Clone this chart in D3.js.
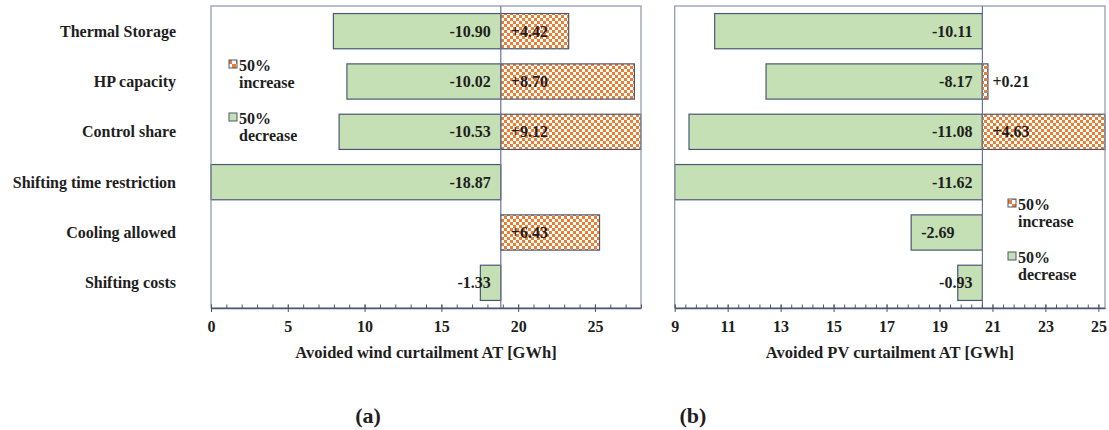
<!DOCTYPE html>
<html>
<head>
<meta charset="utf-8">
<script src="https://cdn.jsdelivr.net/npm/d3@7/dist/d3.min.js"></script>
<style>
  html, body { margin: 0; padding: 0; background: #fff; }
  svg { display: block; }
  text { font-family: "Liberation Serif", "Times New Roman", serif; font-weight: bold; fill: #1e1e1e; }
</style>
</head>
<body>
<svg id="chart" width="1109" height="430"></svg>
<script>
// Sensitivity parameters (top to bottom)
const categories = [
  "Thermal Storage",
  "HP capacity",
  "Control share",
  "Shifting time restriction",
  "Cooling allowed",
  "Shifting costs"
];

// (a) avoided wind curtailment, GWh
const windBase = 18.87;
const windDecrease = [-10.90, -10.02, -10.53, -18.87, null, -1.33];
const windIncrease = [4.42, 8.70, 9.12, null, 6.43, null];
const windTicks = [0, 5, 10, 15, 20, 25];

// (b) avoided PV curtailment, GWh
const pvBase = 20.62;
const pvDecrease = [-10.11, -8.17, -11.08, -11.62, -2.69, -0.93];
const pvIncrease = [null, 0.21, 4.63, null, null, null];
const pvTicks = [9, 11, 13, 15, 17, 19, 21, 23, 25];

const legendLabels = [["50%", "increase"], ["50%", "decrease"]];

const svg = d3.select("#chart");
const GREEN = "#c5e0b4";
const ORANGE = "#ed7d31";
const BAR_STROKE = "#4a5872";
const FRAME = "#8a94aa";

// plain hyphen for negatives, explicit plus for positives
const fmt2 = v => (v < 0 ? "-" : "+") + Math.abs(v).toFixed(2);

// checkerboard fill for the "increase" bars
const defs = svg.append("defs");
const pat = defs.append("pattern")
  .attr("id", "checker").attr("patternUnits", "userSpaceOnUse")
  .attr("width", 6).attr("height", 6);
pat.append("rect").attr("width", 6).attr("height", 6).attr("fill", "#fff");
pat.append("rect").attr("x", 0).attr("y", 0).attr("width", 3).attr("height", 3).attr("fill", ORANGE);
pat.append("rect").attr("x", 3).attr("y", 3).attr("width", 3).attr("height", 3).attr("fill", ORANGE);
const pat2 = defs.append("pattern")
  .attr("id", "checkerLegend").attr("patternUnits", "userSpaceOnUse")
  .attr("width", 8).attr("height", 8);
pat2.append("rect").attr("width", 8).attr("height", 8).attr("fill", "#fff");
pat2.append("rect").attr("width", 4).attr("height", 4).attr("fill", ORANGE);
pat2.append("rect").attr("x", 4).attr("y", 4).attr("width", 4).attr("height", 4).attr("fill", ORANGE);

const plotTop = 6, plotBottom = 308;
const y = d3.scaleBand().domain(categories).range([plotTop, plotBottom]).paddingInner(0.3).paddingOuter(0.15);

function panel(opts) {
  const { x0, x1, domain, base, dec, inc, ticks, minorStep, title, legendX, legendY, legendGap, tag, tagX, insideLeft } = opts;
  const x = d3.scaleLinear().domain(domain).range([x0, x1]);
  const g = svg.append("g");

  const rows = categories.map((c, i) => ({ c, i, dec: dec[i], inc: inc[i] }));

  // decrease bars (green) extend left of the base value
  g.selectAll("rect.dec").data(rows.filter(d => d.dec != null)).join("rect")
    .attr("x", d => x(base + d.dec)).attr("y", d => y(d.c))
    .attr("width", d => x(base) - x(base + d.dec)).attr("height", y.bandwidth())
    .attr("fill", GREEN).attr("stroke", BAR_STROKE).attr("stroke-width", 1.2);

  // increase bars (orange checkerboard) extend right of the base value
  g.selectAll("rect.inc").data(rows.filter(d => d.inc != null)).join("rect")
    .attr("x", x(base)).attr("y", d => y(d.c))
    .attr("width", d => Math.min(x(base + d.inc), x1) - x(base)).attr("height", y.bandwidth())
    .attr("fill", "url(#checker)").attr("stroke", BAR_STROKE).attr("stroke-width", 1.2);

  // plot frame
  g.append("rect").attr("x", x0).attr("y", plotTop).attr("width", x1 - x0).attr("height", plotBottom - plotTop)
    .attr("fill", "none").attr("stroke", FRAME).attr("stroke-width", 1.2);
  // vertical line at the base value
  g.append("line").attr("x1", x(base)).attr("x2", x(base)).attr("y1", plotTop).attr("y2", plotBottom)
    .attr("stroke", "#6b7590").attr("stroke-width", 1.2);

  // minor ticks (inside) and major ticks (crossing the axis)
  const minor = d3.range(domain[0], domain[1] + 1e-9, minorStep);
  g.append("g").attr("transform", `translate(0,${plotBottom})`)
    .call(d3.axisBottom(x).tickValues(minor).tickSize(-3.5).tickFormat(""))
    .call(a => a.select(".domain").remove())
    .call(a => a.selectAll("line").attr("stroke", "#4a5872"));
  const ax = g.append("g").attr("transform", `translate(0,${plotBottom})`)
    .call(d3.axisBottom(x).tickValues(ticks).tickSizeInner(4).tickSizeOuter(0).tickPadding(9).tickFormat(d3.format("d")));
  ax.select(".domain").attr("stroke", "#4a5872").attr("stroke-width", 1.3);
  ax.selectAll(".tick line").attr("stroke", "#4a5872").attr("y1", -3.5);
  ax.selectAll(".tick text").attr("font-size", 16).attr("font-family", "Liberation Serif, serif")
    .attr("font-weight", "bold").attr("fill", "#1e1e1e");

  // axis title
  g.append("text").attr("x", (x0 + x1) / 2).attr("y", 358).attr("text-anchor", "middle")
    .attr("font-size", 16.5).text(title);

  // value labels
  const mid = d => y(d.c) + y.bandwidth() / 2;
  g.selectAll("text.dec").data(rows.filter(d => d.dec != null)).join("text")
    .attr("x", d => insideLeft.includes(d.i) ? x(base + d.dec) + 10 : x(base) - 10)
    .attr("y", d => mid(d)).attr("dy", "0.35em")
    .attr("text-anchor", d => insideLeft.includes(d.i) ? "start" : "end")
    .attr("font-size", 16).text(d => fmt2(d.dec));
  g.selectAll("text.inc").data(rows.filter(d => d.inc != null)).join("text")
    .attr("x", x(base) + 10).attr("y", d => mid(d)).attr("dy", "0.35em")
    .attr("font-size", 16).text(d => fmt2(d.inc));

  // legend
  const swatch = ["url(#checkerLegend)", GREEN];
  legendLabels.forEach((lbl, k) => {
    const ly = legendY + k * legendGap;
    g.append("rect").attr("x", legendX).attr("y", ly - 5).attr("width", 8).attr("height", 8)
      .attr("fill", swatch[k]).attr("stroke", BAR_STROKE).attr("stroke-width", 1);
    g.append("text").attr("x", legendX + 10).attr("y", ly).attr("dy", "0.35em").attr("font-size", 16).text(lbl[0]);
    g.append("text").attr("x", legendX + 10).attr("y", ly + 17).attr("dy", "0.35em").attr("font-size", 16).text(lbl[1]);
  });

  // panel tag
  svg.append("text").attr("x", tagX).attr("y", 415).attr("dy", "0.35em").attr("text-anchor", "middle")
    .attr("font-family", "DejaVu Serif Condensed, DejaVu Serif, serif").attr("font-size", 22)
    .text(tag);
  return x;
}

// category labels
svg.append("g").selectAll("text").data(categories).join("text")
  .attr("x", 176).attr("y", d => y(d) + y.bandwidth() / 2).attr("dy", "0.35em")
  .attr("text-anchor", "end").attr("font-size", 16).text(d => d);

panel({
  x0: 211, x1: 641, domain: [0, 28], base: windBase, dec: windDecrease, inc: windIncrease,
  ticks: windTicks, minorStep: 1, title: "Avoided wind curtailment AT [GWh]",
  legendX: 229, legendY: 65, legendGap: 53, tag: "(a)", tagX: 368, insideLeft: []
});

panel({
  x0: 674.7, x1: 1105, domain: [9, 25.25], base: pvBase, dec: pvDecrease, inc: pvIncrease,
  ticks: pvTicks, minorStep: 0.4, title: "Avoided PV curtailment AT [GWh]",
  legendX: 1008, legendY: 204, legendGap: 53, tag: "(b)", tagX: 693, insideLeft: [4]
});
</script>
</body>
</html>
